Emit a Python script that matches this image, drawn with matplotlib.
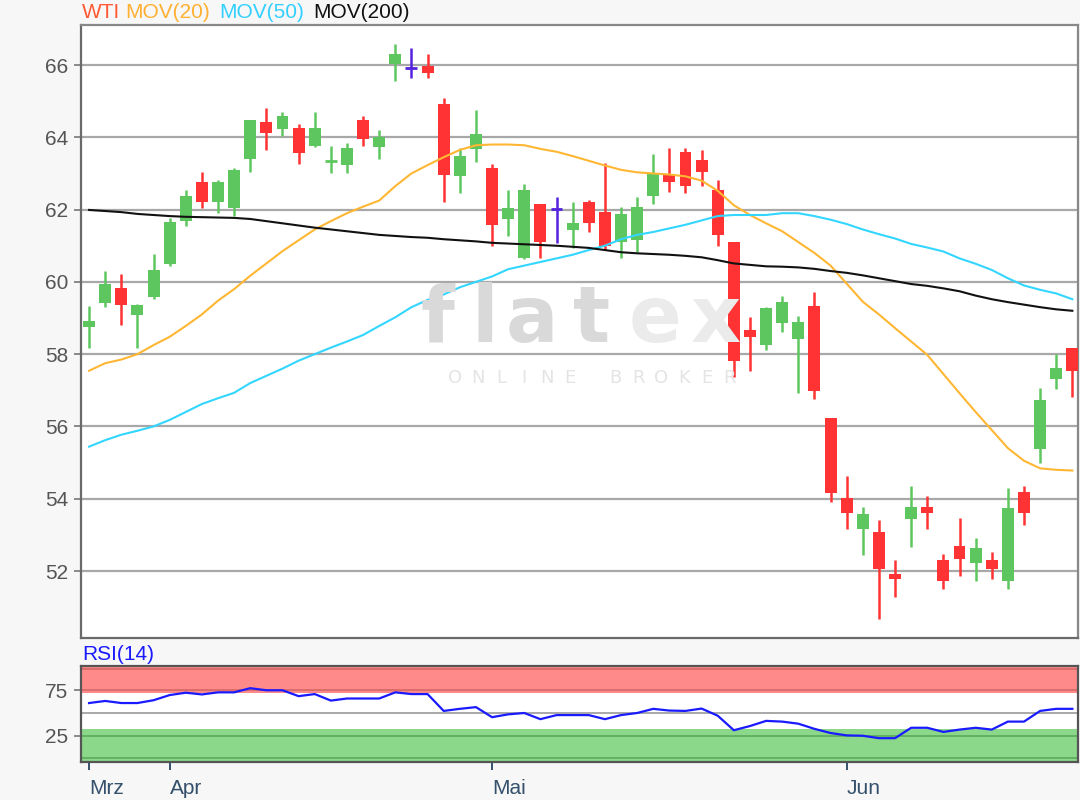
import matplotlib
matplotlib.use("Agg")
import matplotlib.pyplot as plt
import numpy as np

plt.rcParams['font.family'] = ['Liberation Sans', 'DejaVu Sans']

# ---------------- data ----------------
opens = [58.74, 59.41, 59.82, 59.08, 59.57, 60.49, 61.68, 62.77, 62.22, 62.04,
         63.39, 64.41, 64.22, 64.25, 63.77, 63.32, 63.23, 64.48, 63.72, 66.03,
         65.91, 65.98, 64.91, 62.94, 63.67, 63.14, 61.73, 60.65, 62.15, 62.02,
         61.44, 62.22, 61.93, 61.11, 61.16, 62.38, 62.96, 63.59, 63.37, 62.54,
         61.10, 58.67, 58.25, 58.86, 58.41, 59.33, 56.23, 54.01, 53.16, 53.07,
         51.91, 53.43, 53.78, 52.31, 52.69, 52.22, 52.31, 51.71, 54.18, 55.37,
         57.31, 58.16]
highs = [59.33, 60.31, 60.22, 59.39, 60.77, 61.76, 62.54, 63.05, 62.82, 63.16,
         64.48, 64.80, 64.69, 64.37, 64.69, 63.77, 63.85, 64.59, 64.20, 66.58,
         66.46, 66.30, 65.08, 63.70, 64.76, 63.26, 62.54, 62.70, 62.15, 62.36,
         62.22, 62.27, 63.28, 62.08, 62.36, 63.54, 63.71, 63.71, 63.65, 62.82,
         61.10, 59.02, 59.30, 59.61, 59.06, 59.71, 56.23, 54.63, 53.78, 53.41,
         52.31, 54.35, 54.08, 52.46, 53.46, 52.91, 52.52, 54.29, 54.35, 57.06,
         58.00, 58.16]
lows = [58.18, 59.31, 58.81, 58.18, 59.52, 60.45, 61.55, 62.04, 61.90, 61.83,
        63.05, 63.65, 64.04, 63.26, 63.72, 63.00, 63.00, 63.77, 63.39, 65.56,
        65.65, 65.65, 62.22, 62.45, 63.33, 61.00, 61.28, 60.63, 60.67, 61.07,
        60.93, 61.37, 60.88, 60.67, 60.84, 62.15, 62.48, 62.45, 62.66, 61.00,
        57.36, 57.52, 58.12, 58.62, 56.92, 56.75, 53.92, 53.16, 52.43, 50.67,
        51.28, 52.66, 53.16, 51.50, 51.87, 51.71, 51.77, 51.50, 53.27, 54.98,
        57.03, 56.81]
closes = [58.93, 59.93, 59.36, 59.36, 60.33, 61.67, 62.38, 62.22, 62.77, 63.10,
          64.48, 64.11, 64.59, 63.56, 64.25, 63.36, 63.70, 63.94, 64.02, 66.30,
          65.91, 65.77, 62.96, 63.48, 64.08, 61.57, 62.04, 62.54, 61.11, 62.02,
          61.64, 61.62, 61.00, 61.87, 62.08, 63.02, 62.77, 62.66, 63.05, 61.30,
          57.81, 58.47, 59.27, 59.44, 58.88, 56.99, 54.15, 53.60, 53.57, 52.05,
          51.77, 53.78, 53.60, 51.73, 52.33, 52.63, 52.05, 53.74, 53.60, 56.73,
          57.61, 57.52]

mov20 = [57.54, 57.75, 57.85, 58.00, 58.25, 58.48, 58.78, 59.10, 59.48, 59.80,
         60.17, 60.51, 60.85, 61.15, 61.45, 61.68, 61.90, 62.08, 62.25, 62.65,
         63.00, 63.23, 63.45, 63.65, 63.78, 63.80, 63.80, 63.78, 63.68, 63.60,
         63.48, 63.35, 63.22, 63.10, 63.03, 63.00, 62.97, 62.92, 62.80, 62.52,
         62.12, 61.85, 61.62, 61.40, 61.10, 60.80, 60.45, 59.95, 59.45, 59.10,
         58.72, 58.35, 57.98, 57.45, 56.92, 56.40, 55.90, 55.40, 55.05, 54.84,
         54.80, 54.78]
mov50 = [55.44, 55.62, 55.77, 55.88, 56.00, 56.18, 56.40, 56.62, 56.78, 56.93,
         57.20, 57.40, 57.60, 57.82, 58.00, 58.18, 58.35, 58.53, 58.78, 59.02,
         59.30, 59.50, 59.65, 59.85, 60.00, 60.15, 60.35, 60.45, 60.55, 60.65,
         60.75, 60.88, 61.00, 61.18, 61.30, 61.38, 61.48, 61.58, 61.70, 61.82,
         61.85, 61.85, 61.85, 61.90, 61.90, 61.82, 61.72, 61.60, 61.45, 61.32,
         61.20, 61.05, 60.95, 60.84, 60.65, 60.50, 60.33, 60.10, 59.90, 59.78,
         59.68, 59.52]
mov200 = [61.99, 61.96, 61.93, 61.88, 61.85, 61.82, 61.80, 61.79, 61.78, 61.77,
          61.74, 61.68, 61.62, 61.56, 61.50, 61.45, 61.40, 61.35, 61.30, 61.27,
          61.24, 61.22, 61.18, 61.15, 61.12, 61.08, 61.06, 61.04, 61.02, 61.00,
          60.97, 60.94, 60.88, 60.82, 60.79, 60.77, 60.75, 60.72, 60.68, 60.60,
          60.51, 60.47, 60.43, 60.42, 60.40, 60.36, 60.30, 60.25, 60.18, 60.10,
          60.02, 59.94, 59.89, 59.82, 59.74, 59.62, 59.52, 59.44, 59.37, 59.30,
          59.24, 59.20]
rsi = [61.0, 63.3, 61.0, 61.0, 64.1, 69.8, 72.4, 70.5, 72.8, 72.8,
       77.4, 75.1, 75.1, 68.6, 70.9, 63.7, 66.0, 66.0, 66.0, 72.8,
       70.9, 70.9, 52.3, 54.6, 56.5, 45.4, 48.5, 50.0, 43.2, 47.7,
       47.7, 47.7, 43.2, 47.7, 50.0, 54.6, 52.7, 52.3, 54.9, 47.0,
       31.0, 35.6, 41.3, 40.5, 38.2, 32.5, 27.9, 25.3, 24.9, 22.2,
       22.2, 33.7, 33.7, 29.1, 31.7, 33.7, 31.7, 40.5, 40.5, 52.3,
       54.6, 54.6]

price_ticks = [52, 54, 56, 58, 60, 62, 64, 66]
rsi_ticks = [25, 75]
month_pos = [0, 5, 25, 47]
month_labels = ["Mrz", "Apr", "Mai", "Jun"]
legend_labels = ["WTI", "MOV(20)", "MOV(50)", "MOV(200)"]

# ---------------- styles ----------------
GREEN = '#5ec65e'
RED = '#ff3333'
PURPLE = '#5522dd'
BG = '#f7f7f7'
GRID = '#a8a8a8'
SPINE = '#6a6a6a'
TICKTXT = '#555555'
XTXT = '#34506b'

fig = plt.figure(figsize=(10.8, 8), dpi=100, facecolor=BG)
W, H = 1080.0, 800.0

def fx(px):
    return px / W

def fy(py):
    return 1 - py / H

ax = fig.add_axes([fx(81), fy(638.3), fx(1078) - fx(81), fy(25) - fy(638.3)])
ax2 = fig.add_axes([fx(81), fy(762.2), fx(1078) - fx(81), fy(665.8) - fy(762.2)])

n = len(opens)
x = np.arange(n)

# ---- main panel ----
ax.set_facecolor('white')
ax.set_xlim(-0.5, 61.35)
ax.set_ylim(50.138, 67.107)
for t in price_ticks:
    ax.axhline(t, color=GRID, lw=1.6, zorder=1)

# watermark
wm_letters = "flatex"
wm_x = [437, 485, 532, 592, 655, 716]
for ch, px in zip(wm_letters, wm_x):
    col = '#d9d9d9' if ch in "flat" else '#ebebeb'
    fig.text(fx(px), fy(342), ch, fontsize=56, color=col, ha='center', va='baseline',
             family='DejaVu Sans', fontweight='bold', zorder=0.5)
sub = "ONLINE BROKER"
for k, ch in enumerate(sub):
    if ch == ' ':
        continue
    fig.text(fx(455 + k * 22.9), fy(378), ch, fontsize=13, color='#e4e4e4',
             ha='center', va='center', family='DejaVu Sans')

bw = 0.74
for i in range(n):
    o, h, l, c = opens[i], highs[i], lows[i], closes[i]
    if c > o:
        col = GREEN
    elif c < o:
        col = RED
    else:
        col = PURPLE
    ax.vlines(i, l, h, color=col, lw=1.8, zorder=3)
    if abs(c - o) < 0.06:
        ax.hlines((o + c) / 2, i - bw / 2, i + bw / 2, color=col, lw=2.0, zorder=3)
    else:
        ax.bar(i, abs(c - o), bottom=min(o, c), width=bw, color=col, zorder=3,
               linewidth=0)

ax.plot(x, mov20, color='#ffb733', lw=1.5, zorder=4)
ax.plot(x, mov50, color='#33d6ff', lw=1.5, zorder=4)
ax.plot(x, mov200, color='#111111', lw=1.5, zorder=4)

ax.set_yticks(price_ticks)
ax.set_yticklabels([str(t) for t in price_ticks])
ax.set_xticks([])
ax.tick_params(axis='y', direction='out', length=5, width=1.2, color='#777777',
               labelsize=15, labelcolor=TICKTXT, pad=4)
for s in ax.spines.values():
    s.set_color(SPINE)
    s.set_linewidth(1.6)
ax.spines['top'].set_color('#888888')
ax.spines['right'].set_color('#888888')

# legend text
leg_cols = ['#ff5a33', '#ffb030', '#33d0ff', '#111111']
leg_x = [82, 125, 219, 313]
for lab, col, px in zip(legend_labels, leg_cols, leg_x):
    fig.text(fx(px), fy(13), lab, color=col, fontsize=15, ha='left', va='center')

# ---- RSI panel ----
ax2.set_facecolor('white')
ax2.set_xlim(-0.5, 61.35)
ax2.set_ylim(-4.3, 102.1)
ax2.axhspan(72, 110, color='#ff8a8a', lw=0, zorder=1)
ax2.axhspan(-10, 32, color='#8bd88b', lw=0, zorder=1)
for v in (75, 99):
    ax2.axhline(v, color='#d86a6a', lw=1.3, zorder=2)
for v in (25, 0):
    ax2.axhline(v, color='#5fae5f', lw=1.3, zorder=2)
ax2.axhline(50, color='#a8a8a8', lw=1.4, zorder=2)
ax2.plot(x, rsi, color='#1a1aff', lw=1.6, zorder=4)

ax2.set_yticks(rsi_ticks)
ax2.set_yticklabels([str(t) for t in rsi_ticks])
ax2.tick_params(axis='y', direction='out', length=5, width=1.2, color='#777777',
                labelsize=15, labelcolor=TICKTXT, pad=4)
ax2.set_xticks(month_pos)
ax2.set_xticklabels(month_labels)
ax2.tick_params(axis='x', direction='out', length=6, width=1.4, color=XTXT,
                labelsize=15, labelcolor=XTXT, pad=6)
for lab in ax2.get_xticklabels():
    lab.set_horizontalalignment('left')
for s in ax2.spines.values():
    s.set_color('#555555')
    s.set_linewidth(1.6)

fig.text(fx(82), fy(655), "RSI(14)", color='#1a1aff', fontsize=15, ha='left', va='center')

fig.savefig("out.png", dpi=100, facecolor=BG)
